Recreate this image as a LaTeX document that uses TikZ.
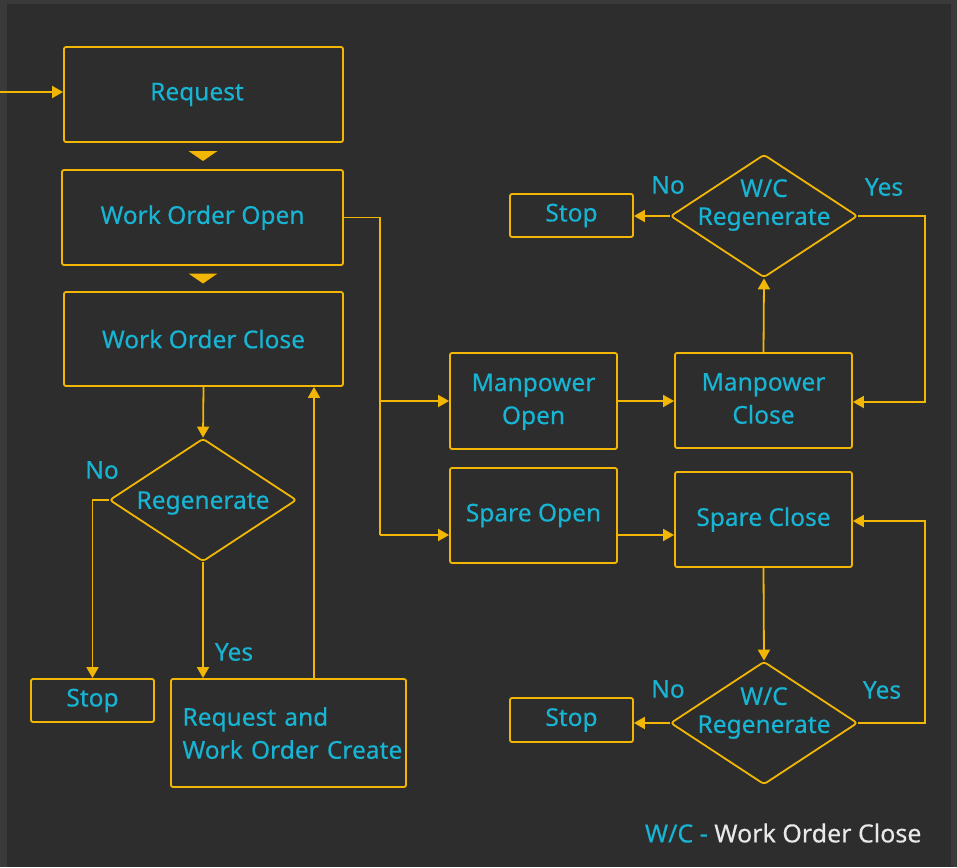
\documentclass[tikz,border=0pt]{standalone}
\usepackage{fontspec}
\setmainfont{Noto Sans}[FakeBold=0.3]
\usetikzlibrary{positioning}
\usetikzlibrary{calc}
\usetikzlibrary{arrows.meta}
\usetikzlibrary{shapes.geometric}

\definecolor{bgdark}{HTML}{2D2D2D}
\definecolor{bgframe}{HTML}{3A3A3A}
\definecolor{amber}{HTML}{F2B705}
\definecolor{aqua}{HTML}{17B4D3}
\definecolor{paper}{HTML}{E8E8E8}

\tikzset{
  txt/.style={text=aqua,font=\fontsize{24.5}{33}\selectfont,align=center},
  stepbox/.style={txt,draw=amber,line width=1.8pt,rounded corners=2pt,inner sep=0pt},
  decision/.style={draw=amber,line width=1.8pt,shape=diamond,rounded corners=3pt,
    inner sep=0pt,minimum width=187pt,minimum height=123pt},
  link/.style={draw=amber,line width=1.8pt},
  arr/.style={link,-{Triangle[length=11pt,width=12pt]}},
}

\begin{document}
\begin{tikzpicture}[x=1pt,y=-1pt]
            \fill[bgframe] (0,0) rectangle (957,867);
            \fill[bgdark] (7,4) rectangle (951,867);
            \useasboundingbox (0,0) rectangle (957,867);

            % left column
            \node[stepbox,minimum width=279pt,minimum height=95pt] (req) at (203.5,94.5) {\raisebox{-4pt}{Request}\hspace*{13pt}};
            \node[stepbox,minimum width=281pt,minimum height=95pt] (woo) at (202.5,217.5) {\raisebox{-1pt}{Work Order Open}};
            \node[stepbox,minimum width=279pt,minimum height=94pt] (woc) at (203.5,339) {\raisebox{-1pt}{Work Order Close}};
            \node[decision,label={[txt,yshift=-3pt]center:Regenerate}] (reg) at (203,500) {};
            \node[stepbox,minimum width=123pt,minimum height=43pt] (stopa) at (92.5,700.5) {Stop};
            \node[stepbox,minimum width=235pt,minimum height=108pt,text width=230pt,align=left] (rwc) at (288.5,733) {\hspace*{9pt}Request and\\\hspace*{9pt}Work Order Create};

            % right part
            \node[stepbox,minimum width=167pt,minimum height=96pt] (mo) at (533.5,401) {\raisebox{-3pt}{\begin{tabular}{@{}c@{}}Manpower\\Open\end{tabular}}};
            \node[stepbox,minimum width=177pt,minimum height=95pt] (mc) at (763.5,400.5) {\raisebox{-4pt}{\begin{tabular}{@{}c@{}}Manpower\\Close\end{tabular}}};
            \node[stepbox,minimum width=167pt,minimum height=95pt] (so) at (533.5,515.5) {\raisebox{-3pt}{Spare Open}};
            \node[stepbox,minimum width=177pt,minimum height=95pt] (sc) at (763.5,519.5) {Spare Close};
            \node[decision,label={[txt,yshift=11pt]center:W/C\\[-5pt]Regenerate}] (wca) at (764,216) {};
            \node[decision,label={[txt,yshift=10pt]center:W/C\\[-5pt]Regenerate}] (wcb) at (764,723) {};
            \node[stepbox,minimum width=123pt,minimum height=43pt] (stopb) at (571.5,215.5) {Stop};
            \node[stepbox,minimum width=123pt,minimum height=44pt] (stopc) at (571.5,720) {Stop};

            % branch labels
            \node[txt] (noa) at (102,470) {No};
            \node[txt] (yesa) at (234,652) {Yes};
            \node[txt] (nob) at (668,185) {No};
            \node[txt] (yesb) at (884,187) {Yes};
            \node[txt] (noc) at (668,689) {No};
            \node[txt] (yesc) at (882,690) {Yes};

            % legend
            \node[txt,anchor=east,font=\fontsize{25}{30}\selectfont] (key) at (925,833) {W/C - \textcolor{paper}{Work Order Close}};

            % helper points
            \coordinate (in) at (0,92);
            \coordinate (bus) at (380,535);
            \coordinate (up) at (314,0);
            \coordinate (reta) at (925,402);
            \coordinate (retb) at (925,521);

            % connectors
            \draw[arr] (in) -- (in -| req.west);
            \foreach \a/\b in {req/woo,woo/woc}
              \fill[amber] ($(\a.south)!0.5!(\b.north)$) +(-14.5,-5) -- +(14.5,-5) -- +(0,5) -- cycle;
            \draw[arr] (woc.south) -- (reg.north);
            \draw[arr] (reg.west) -| (stopa.north);
            \draw[arr] (reg.south) -- (reg.south |- rwc.north);
            \draw[arr] (rwc.north -| up) -- (woc.south -| up);
            \draw[link] (woo.east) -| (bus);
            \draw[arr] (bus |- mo.west) -- (mo.west);
            \draw[arr] (bus) -- (bus -| so.west);
            \draw[arr] (mo.east) -- (mo.east -| mc.west);
            \draw[arr] (bus -| so.east) -- (bus -| sc.west);
            \draw[arr] (mc.north) -- (wca.south);
            \draw[arr] (wca.west) -- (wca.west -| stopb.east);
            \draw[arr] (wca.east) -| (reta) -- (reta -| mc.east);
            \draw[arr] (sc.south) -- (wcb.north);
            \draw[arr] (wcb.west) -- (wcb.west -| stopc.east);
            \draw[arr] (wcb.east) -| (retb) -- (retb -| sc.east);
        \end{tikzpicture}
\end{document}
